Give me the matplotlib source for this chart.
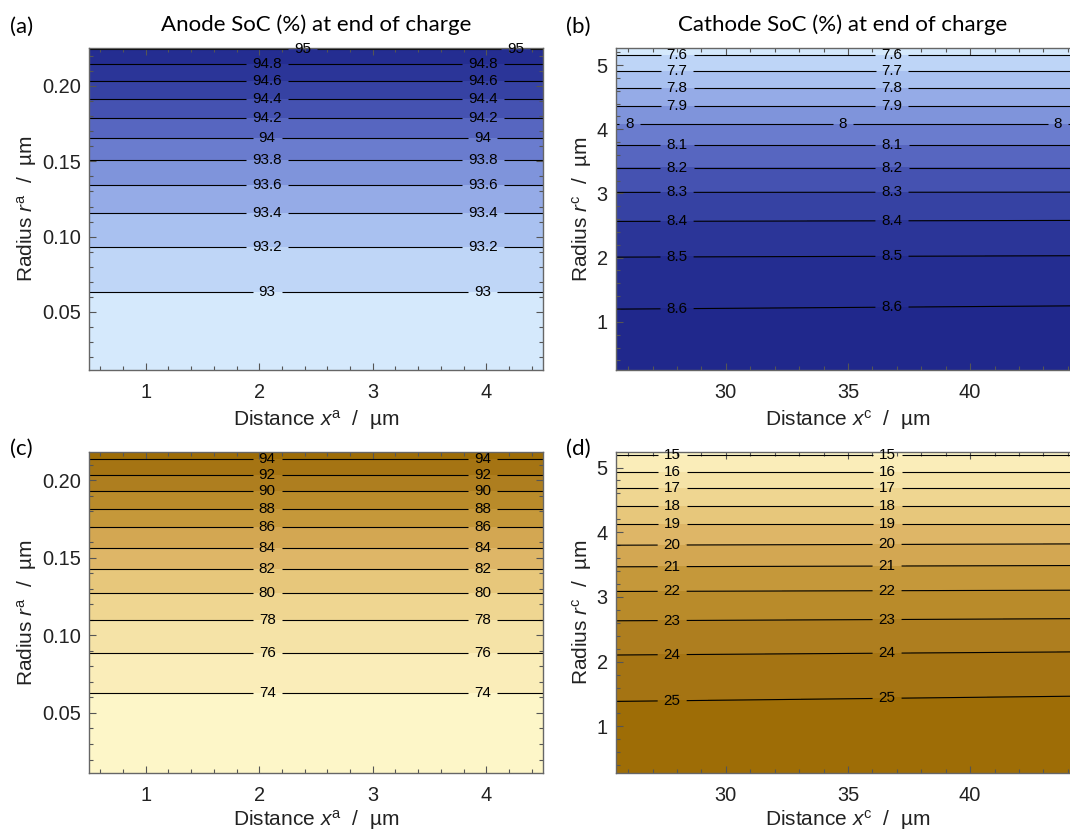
import numpy as np
import matplotlib.pyplot as plt
from matplotlib.colors import LinearSegmentedColormap
from matplotlib.ticker import MultipleLocator

plt.rcParams['font.family'] = 'Liberation Sans'
plt.rcParams['mathtext.fontset'] = 'custom'
plt.rcParams['mathtext.rm'] = 'Liberation Sans'
plt.rcParams['mathtext.it'] = 'Liberation Sans:italic'

# (a) anode SoC at end of charge: level value and the radius where it sits
anode_chg_x = [0.5, 4.5]
anode_chg_soc = [92.9, 93.0, 93.2, 93.4, 93.6, 93.8, 94.0, 94.2, 94.4, 94.6, 94.8, 95.0, 95.03]
anode_chg_r = [0.0115, 0.0635, 0.0929, 0.1155, 0.1343, 0.1507, 0.1653, 0.1790, 0.1912,
               0.2033, 0.2146, 0.2245, 0.2252]

# (b) cathode SoC at end of charge, radius at the left and right ends
cathode_chg_x = [25.5, 44.5]
cathode_chg_soc = [7.55, 7.6, 7.7, 7.8, 7.9, 8.0, 8.1, 8.2, 8.3, 8.4, 8.5, 8.6, 8.66]
cathode_chg_r_left = [5.265, 5.156, 4.906, 4.646, 4.361, 4.076, 3.753, 3.400, 3.016,
                      2.564, 2.008, 1.198, 0.25]
cathode_chg_r_right = [5.265, 5.156, 4.906, 4.646, 4.361, 4.076, 3.753, 3.400, 3.020,
                       2.580, 2.030, 1.250, 0.25]

# (c) anode SoC, second state
anode_dis_x = [0.5, 4.5]
anode_dis_soc = [73.5, 74, 76, 78, 80, 82, 84, 86, 88, 90, 92, 94, 94.8]
anode_dis_r = [0.0113, 0.0629, 0.0890, 0.1097, 0.1274, 0.1426, 0.1566, 0.1699, 0.1815,
               0.1932, 0.2035, 0.2138, 0.2183]

# (d) cathode SoC, second state
cathode_dis_x = [25.5, 44.5]
cathode_dis_soc = [14.8, 15, 16, 17, 18, 19, 20, 21, 22, 23, 24, 25, 25.4]
cathode_dis_r_left = [5.24, 5.196, 4.938, 4.686, 4.408, 4.126, 3.800, 3.466, 3.085,
                      2.632, 2.103, 1.386, 0.28]
cathode_dis_r_right = [5.24, 5.196, 4.938, 4.686, 4.408, 4.126, 3.820, 3.486, 3.105,
                       2.665, 2.152, 1.468, 0.28]

blue = LinearSegmentedColormap.from_list(
    'soc_blue', ['#dff2fe', '#b3ccf5', '#8aa0e2', '#6070c8', '#3c48a9', '#262f93', '#1e268a'])
brown = LinearSegmentedColormap.from_list(
    'soc_brown', ['#fffacf', '#f8e9b2', '#ecd086', '#d9ae5d', '#bf912f', '#a9781a', '#9b6a00'])

fig = plt.figure(figsize=(10.70, 8.32), dpi=100)

W, H = 1070, 832


def make_axes(left, top, right, bottom):
    return fig.add_axes([left / W, 1 - bottom / H, (right - left) / W, (bottom - top) / H])


def panel(ax, x, soc, r_left, r_right, fill_levels, line_levels, cmap,
          label_x, label_x_special=None, special_level=None):
    X = np.tile(np.asarray(x, float), (len(soc), 1))
    Y = np.column_stack([r_left, r_right])
    Z = np.column_stack([soc, soc])
    ax.contourf(X, Y, Z, levels=fill_levels, cmap=cmap)
    cs = ax.contour(X, Y, Z, levels=line_levels, colors='k', linewidths=0.8)
    spots = []
    for lev in line_levels:
        i = list(soc).index(lev)
        xs = label_x_special if lev == special_level else label_x
        for xl in xs:
            spots.append((xl, np.interp(xl, x, [r_left[i], r_right[i]])))
    texts = ax.clabel(cs, fmt='%g', fontsize=11, inline=True, inline_spacing=6,
                      manual=spots)
    for t in texts:
        t.set_clip_on(False)


def style(ax, xlim, ylim, xmaj, xmin, ymaj, ymin, yfmt, xlabel, ylabel, xpad=4):
    ax.set_xlim(*xlim)
    ax.set_ylim(*ylim)
    ax.xaxis.set_major_locator(MultipleLocator(xmaj))
    ax.xaxis.set_minor_locator(MultipleLocator(xmin))
    ax.yaxis.set_major_locator(MultipleLocator(ymaj))
    ax.yaxis.set_minor_locator(MultipleLocator(ymin))
    if yfmt:
        ax.yaxis.set_major_formatter(yfmt)
    ax.tick_params(which='both', direction='in', top=True, right=True,
                   color='#555555', width=0.8, labelsize=14.4, labelcolor='#222222')
    ax.tick_params(axis='x', which='both', pad=9.5)
    ax.tick_params(axis='y', which='both', pad=6)
    ax.tick_params(which='major', length=5)
    ax.tick_params(which='minor', length=3)
    for s in ax.spines.values():
        s.set_color('#666666')
        s.set_linewidth(1.0)
    ax.set_xlabel(xlabel, fontsize=15, color='#222222', labelpad=xpad)
    ax.set_ylabel(ylabel, fontsize=15, color='#222222', labelpad=2)


ax_a = make_axes(89, 48, 543, 370)
ax_b = make_axes(616, 48, 1080, 370)
ax_c = make_axes(89, 452, 543, 773)
ax_d = make_axes(616, 452, 1080, 773)

panel(ax_a, anode_chg_x, anode_chg_soc, anode_chg_r, anode_chg_r,
      np.arange(92.8, 95.21, 0.2), [93.0, 93.2, 93.4, 93.6, 93.8, 94.0, 94.2, 94.4, 94.6, 94.8, 95.0],
      blue, [2.07, 3.97], [2.38, 4.26], 95.0)
panel(ax_b, cathode_chg_x, cathode_chg_soc, cathode_chg_r_left, cathode_chg_r_right,
      np.arange(7.5, 8.71, 0.1), [7.6, 7.7, 7.8, 7.9, 8.0, 8.1, 8.2, 8.3, 8.4, 8.5, 8.6],
      blue, [28.0, 36.8], [26.05, 34.8, 43.6], 8.0)
panel(ax_c, anode_dis_x, anode_dis_soc, anode_dis_r, anode_dis_r,
      np.arange(72, 96.1, 2), [74, 76, 78, 80, 82, 84, 86, 88, 90, 92, 94],
      brown, [2.07, 3.97])
panel(ax_d, cathode_dis_x, cathode_dis_soc, cathode_dis_r_left, cathode_dis_r_right,
      np.arange(14, 26.1, 1), [15, 16, 17, 18, 19, 20, 21, 22, 23, 24, 25],
      brown, [27.8, 36.6])

fmt2 = plt.FormatStrFormatter('%.2f')
style(ax_a, (0.5, 4.5), (0.0115, 0.2252), 1, 0.2, 0.05, 0.01, fmt2,
      r'Distance $x^{\mathrm{a}}$  /  µm', r'Radius $r^{\mathrm{a}}$  /  µm')
style(ax_b, (25.5, 44.5), (0.25, 5.265), 5, 1, 1, 0.2, None,
      r'Distance $x^{\mathrm{c}}$  /  µm', r'Radius $r^{\mathrm{c}}$  /  µm')
style(ax_c, (0.5, 4.5), (0.0113, 0.2183), 1, 0.2, 0.05, 0.01, fmt2,
      r'Distance $x^{\mathrm{a}}$  /  µm', r'Radius $r^{\mathrm{a}}$  /  µm', xpad=2)
style(ax_d, (25.5, 44.5), (0.28, 5.24), 5, 1, 1, 0.2, None,
      r'Distance $x^{\mathrm{c}}$  /  µm', r'Radius $r^{\mathrm{c}}$  /  µm', xpad=2)

ax_a.set_title('Anode SoC (%) at end of charge', family='Lato', fontsize=16, pad=12)
ax_b.set_title('Cathode SoC (%) at end of charge', family='Lato', fontsize=16, pad=12,
               x=(843 - 616) / (1080 - 616))

for txt, (px, py) in zip(['(a)', '(b)', '(c)', '(d)'],
                         [(10, 27), (566, 27), (10, 449), (566, 449)]):
    fig.text(px / W, 1 - py / H, txt, family='Lato', fontsize=16, va='center', ha='left')

fig.savefig('out.png', dpi=100)
